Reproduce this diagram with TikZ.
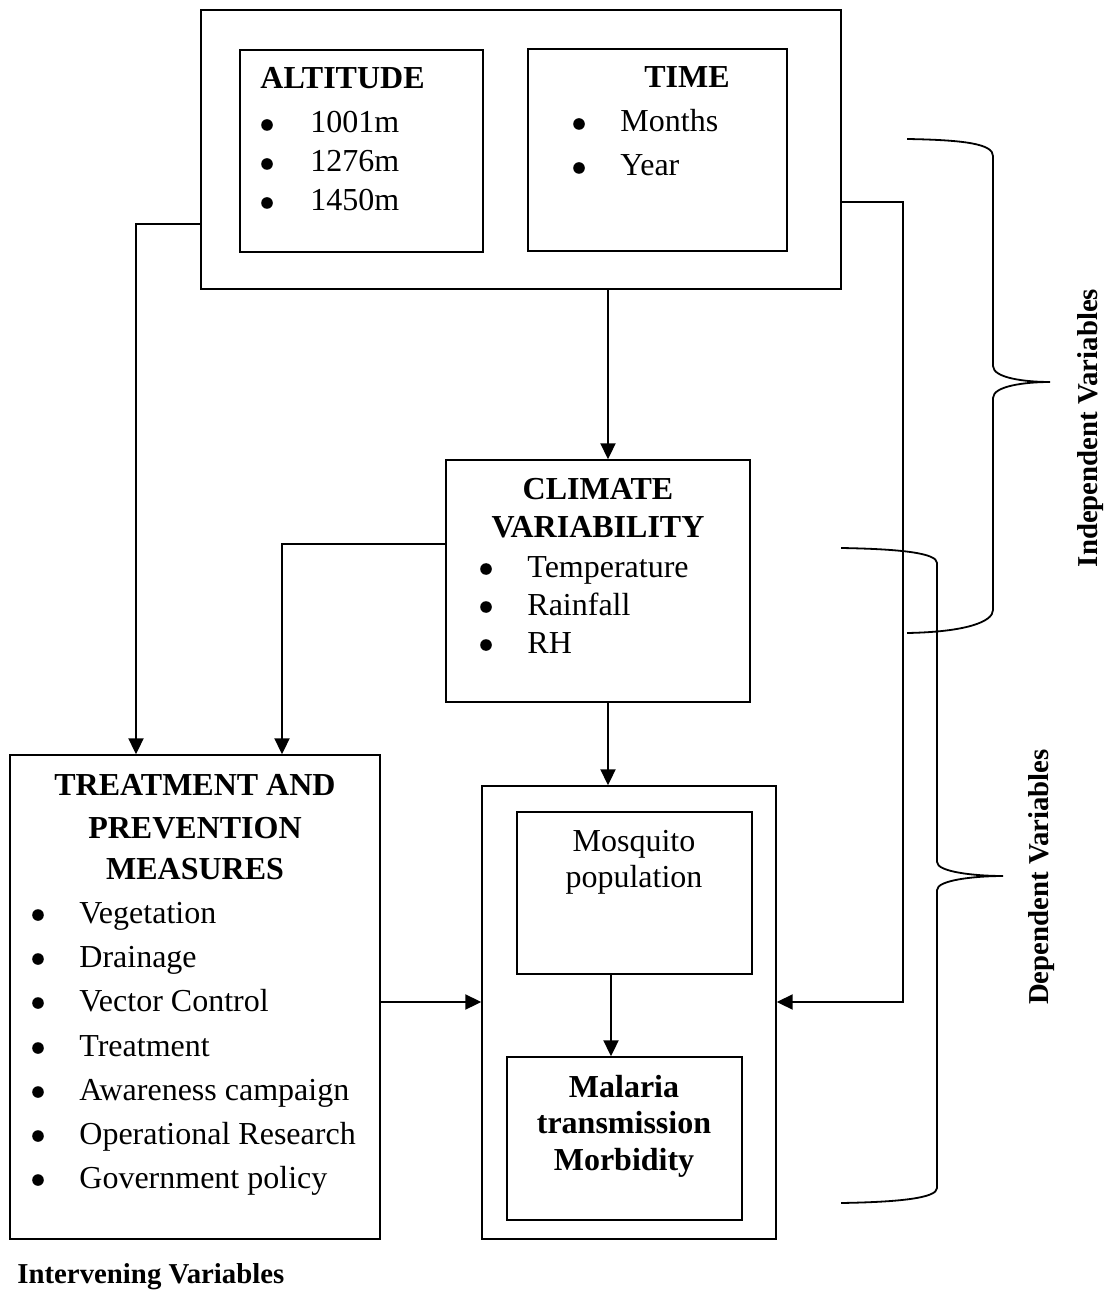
\documentclass[tikz,border=0pt]{standalone}
\usepackage{fontspec}
\setmainfont{Liberation Serif}
\usetikzlibrary{arrows.meta,fit,calc}
\begin{document}
\begin{tikzpicture}[x=0.5pt,y=-0.5pt,
 box/.style={draw, line width=0.7pt, inner sep=0pt},
 arr/.style={line width=1pt, -{Triangle[length=8pt,width=7.5pt]}},
 txt/.style={anchor=base west, inner sep=0pt, font=\fontsize{16}{19}\selectfont},
 ctxt/.style={anchor=base, inner sep=0pt, font=\fontsize{16}{19}\selectfont},
 hd/.style={anchor=base, inner sep=0pt, font=\fontsize{16}{19}\selectfont\bfseries},
 bul/.style={circle, fill=black, inner sep=0pt, minimum size=5.8pt},
 lab/.style={inner sep=0pt, font=\fontsize{14.4}{17}\selectfont\bfseries},
 bracepath/.style={line width=0.9pt}]
\useasboundingbox (0,0) rectangle (1112,1293);

% boxes
\node[box, fit={(201,10) (841,289)}] (topbox) {};
\node[box, fit={(240,50) (483,252)}] (alt) {};
\node[box, fit={(528,49) (787,251)}] (time) {};
\node[box, fit={(446,460) (750,702)}] (clim) {};
\node[box, fit={(10,755) (380,1239)}] (treat) {};
\node[box, fit={(482,786) (776,1239)}] (outcome) {};
\node[box, fit={(517,812) (752,974)}] (mosq) {};
\node[box, fit={(507,1057) (742,1220)}] (mal) {};

% altitude
\node[hd, anchor=base west] (altT) at (260,89) {ALTITUDE};
\foreach \t/\y [count=\i] in {1001m/133,1276m/172,1450m/211}{
  \node[bul] (altb\i) at (267,\y-8) {};
  \node[txt] (alti\i) at (310,\y) {\t};
}
% time
\node[hd] (timeT) at (687,88) {TIME};
\foreach \t/\y [count=\i] in {Months/132,Year/176}{
  \node[bul] (timeb\i) at (579,\y-8) {};
  \node[txt] (timei\i) at (620,\y) {\t};
}
% climate
\node[hd] (climT1) at (598,500) {CLIMATE};
\node[hd] (climT2) at (598,537) {VARIABILITY};
\foreach \t/\y [count=\i] in {Temperature/577,Rainfall/615,RH/653}{
  \node[bul] (climb\i) at (486,\y-8) {};
  \node[txt] (climi\i) at (527,\y) {\t};
}
% treatment
\node[hd] (trT1) at (195,795) {TREATMENT AND};
\node[hd] (trT2) at (195,838) {PREVENTION};
\node[hd] (trT3) at (195,879) {MEASURES};
\foreach \t/\y [count=\i] in {Vegetation/923,Drainage/967,Vector Control/1011,Treatment/1056,Awareness campaign/1100,Operational Research/1144,Government policy/1188}{
  \node[bul] (trb\i) at (38,\y-8) {};
  \node[txt] (tri\i) at (79,\y) {\t};
}
% mosquito
\node[ctxt] (mq1) at (634,851) {Mosquito};
\node[ctxt] (mq2) at (634,887) {population};
% malaria
\node[hd] (ml1) at (624,1097) {Malaria};
\node[hd] (ml2) at (624,1133) {transmission};
\node[hd] (ml3) at (624,1170) {Morbidity};

% labels
\node[lab, anchor=base west] (intv) at (17,1283) {Intervening Variables};
\node[lab, anchor=base, rotate=90] (indep) at (1097,428) {Independent Variables};
\node[lab, anchor=base, rotate=90] (dep) at (1048,877) {Dependent Variables};

% helper coordinates
\coordinate (xL) at (136,0);
\coordinate (xM) at (282,0);
\coordinate (xA) at (608,0);
\coordinate (xB) at (611,0);
\coordinate (xR) at (903,0);
\coordinate (yH) at (0,1002);

% connectors
\draw[arr] ($(topbox.north west)+(0,215)$) -| (treat.north -| xL);
\draw[arr] ($(clim.north west)+(0,85)$) -| (treat.north -| xM);
\draw[arr] (topbox.south -| xA) -- (clim.north -| xA);
\draw[arr] (clim.south -| xA) -- (outcome.north -| xA);
\draw[arr] (mosq.south -| xB) -- (mal.north -| xB);
\draw[arr] (treat.east |- yH) -- (outcome.west |- yH);
\draw[arr] ($(topbox.north east)+(0,193)$) -| (xR |- yH) -- (outcome.east |- yH);

% braces
\draw[bracepath] (907,139) .. controls (965,140) and (993,144) .. (993,156) -- (993,366)
  .. controls (993,378) and (1025,382) .. (1050,382)
  .. controls (1025,382) and (993,386) .. (993,398) -- (993,610)
  .. controls (993,622) and (965,632) .. (907,633);
\draw[bracepath] (841,548) .. controls (900,549) and (937,553) .. (937,563) -- (937,862)
  .. controls (937,872) and (975,876) .. (1003,876)
  .. controls (975,876) and (937,880) .. (937,890) -- (937,1188)
  .. controls (937,1198) and (900,1202) .. (841,1203);
\end{tikzpicture}
\end{document}
